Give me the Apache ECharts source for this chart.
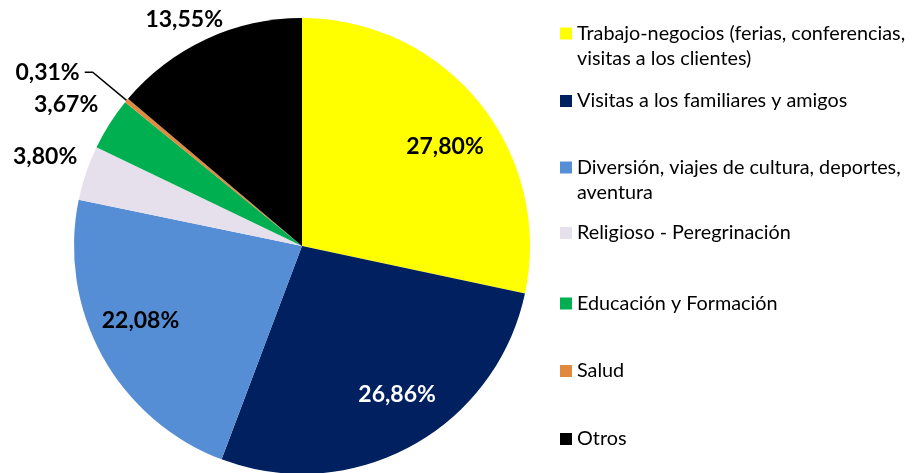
<!DOCTYPE html>
<html>
<head>
<meta charset="utf-8">
<script src="https://cdn.jsdelivr.net/npm/echarts@6/dist/echarts.min.js"></script>
<style>
  html, body { margin: 0; padding: 0; background: #fff; }
  #chart { width: 912px; height: 473px; }
</style>
</head>
<body>
<div id="chart"></div>
<script>
// motivos de viaje
const categories = [
    'Trabajo-negocios (ferias, conferencias,\nvisitas a los clientes)',
    'Visitas a los familiares y amigos',
    'Diversión, viajes de cultura, deportes,\naventura',
    'Religioso - Peregrinación',
    'Educación y Formación',
    'Salud',
    'Otros'
];
const values = [27.80, 26.86, 22.08, 3.80, 3.67, 0.31, 13.55];

const colors = ['#FFFF00', '#002060', '#558ED5', '#E6E0EC', '#00B050', '#E1893F', '#000000'];
const labelColors = ['#000', '#fff', '#000', '#000', '#000', '#000', '#000'];
// where the little slices put their labels
const labelPos = ['inside', 'inside', 'inside', 'outside', 'outside', 'outside', 'outside'];
// small label nudges (px) to sit like the Excel labels
const labelNudge = [[52, -26], [39, 46], [-59, 18], [1, -15], [-2, -17], null, [24, -15]];
// legend rows: vertical centre of first line
const legendRowY = [33.5, 101, 167.5, 233, 303.5, 371, 439];

const chart = echarts.init(document.getElementById('chart'));

const pieData = categories.map(function (name, i) {
    const withLine = i === 5;
    return {
        name: name,
        value: values[i],
        itemStyle: { color: colors[i] },
        label: {
            position: labelPos[i],
            color: labelColors[i],
            // Excel hangs the 0,31% label a bit above its leader line
            padding: withLine ? [0, 0, 12, 0] : 0
        },
        labelLine: {
            show: withLine,
            length: withLine ? 44 : 5,
            length2: withLine ? 8 : 0
        }
    };
});

// one legend per row, so rows sit where Excel put them
const legends = categories.map(function (name, i) {
    const twoLines = name.indexOf('\n') >= 0;
    return {
        data: [name],
        orient: 'vertical',
        left: 560,
        top: legendRowY[i] - (twoLines ? 37.5 : 12.5),
        padding: 0,
        itemWidth: 12,
        itemHeight: 12,
        icon: 'rect',
        selectedMode: false,
        // blank first line keeps the marker next to the first text line
        formatter: function (n) {
            return twoLines ? '\n' + n : n;
        },
        textStyle: {
            fontFamily: 'Lato',
            fontSize: 19.8,
            color: '#000',
            lineHeight: 25
        }
    };
});

chart.setOption({
    backgroundColor: '#fff',
    animation: false,
    legend: legends,
    series: [
        {
            type: 'pie',
            center: [302, 246],
            radius: 228,
            startAngle: 90,
            clockwise: true,
            avoidLabelOverlap: false,
            itemStyle: { borderWidth: 0 },
            emphasis: { disabled: true },
            label: {
                show: true,
                fontFamily: 'Lato',
                fontWeight: 'bold',
                fontSize: 23,
                formatter: function (p) {
                    return p.value.toFixed(2).replace('.', ',') + '%';
                }
            },
            labelLine: {
                lineStyle: { color: '#000', width: 1.5 }
            },
            labelLayout: function (p) {
                const n = labelNudge[p.dataIndex];
                return n ? { dx: n[0], dy: n[1] } : {};
            },
            data: pieData
        }
    ]
});
</script>
</body>
</html>
